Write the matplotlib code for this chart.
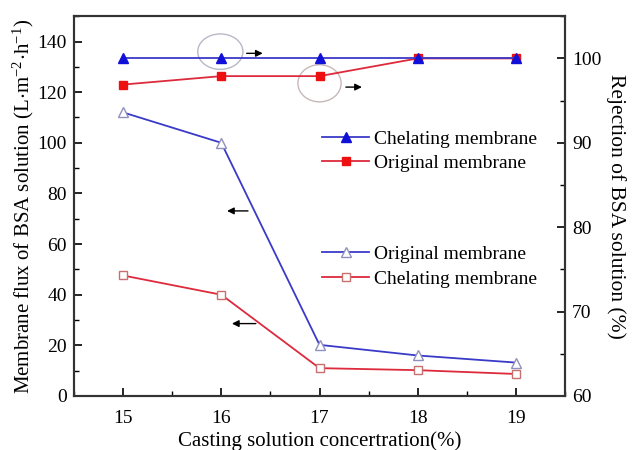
import matplotlib
matplotlib.use("Agg")
import matplotlib.pyplot as plt
from matplotlib.patches import Ellipse
from matplotlib.ticker import MultipleLocator

plt.rcParams['font.family'] = ['Liberation Serif', 'DejaVu Serif']
plt.rcParams['mathtext.fontset'] = 'stix'

# casting solution concentration (%)
conc = [15, 16, 17, 18, 19]

# flux of BSA solution, left axis
flux_original = [112, 100, 20.2, 16, 13.2]
flux_chelating = [47.6, 40, 11, 10.2, 8.7]

# rejection of BSA solution, right axis
rej_chelating = [100, 100, 100, 100, 100]
rej_original = [96.9, 97.9, 97.9, 100, 100]

blue = '#3a3ac8'
red = '#dd2a3c'

fig = plt.figure(figsize=(6.34, 4.5), dpi=100)
ax = fig.add_axes([0.1167, 0.12, 0.7745, 0.844])
ax2 = ax.twinx()

l1, = ax.plot(conc, flux_original, color=blue, lw=1.3, marker='^', ms=7,
              mfc='white', mec='#9090c0', mew=1.0, label='Original membrane')
l2, = ax.plot(conc, flux_chelating, color=red, lw=1.3, marker='s', ms=6,
              mfc='white', mec='#c87070', mew=1.0, label='Chelating membrane')

l4, = ax2.plot(conc, rej_original, color=red, lw=1.3, marker='s', ms=5.5,
               mfc='#ee1010', mec='#ee1010', label='Original membrane')
l3, = ax2.plot(conc, rej_chelating, color=blue, lw=1.3, marker='^', ms=7,
               mfc='#1010d8', mec='#1010d8', label='Chelating membrane')

ax.set_xlim(14.5, 19.5)
ax.set_ylim(0, 150)
ax2.set_ylim(60, 105)
ax.set_xticks(conc)
ax.xaxis.set_minor_locator(MultipleLocator(0.5))
ax.yaxis.set_major_locator(MultipleLocator(20))
ax.yaxis.set_minor_locator(MultipleLocator(10))
ax2.yaxis.set_major_locator(MultipleLocator(10))
ax2.yaxis.set_minor_locator(MultipleLocator(5))

for a in (ax, ax2):
    a.tick_params(which='major', direction='in', length=6, width=1.2, labelsize=14, pad=5)
    a.tick_params(which='minor', direction='in', length=3.5, width=1.0)
    for s in a.spines.values():
        s.set_linewidth(1.5)
        s.set_color('#333333')
ax.tick_params(top=False, which='both')
ax.tick_params(axis='x', pad=10)

ax.set_xlabel('Casting solution concertration(%)', fontsize=15, labelpad=3)
ax.set_ylabel(r'Membrane flux of BSA solution (L$\cdot$m$^{\mathregular{-2}}$$\cdot$h$^{\mathregular{-1}}$)',
              fontsize=15, labelpad=1)
ax2.set_ylabel('Rejection of BSA solution (%)', fontsize=15.5, rotation=270, labelpad=18)

# circles and arrows marking which axis each group belongs to
ax2.add_patch(Ellipse((15.99, 100.8), 0.46, 4.2, fill=False, ec='#b8b8c8', lw=1.0))
ax2.add_patch(Ellipse((17.0, 97.05), 0.44, 4.4, fill=False, ec='#c8b8b8', lw=1.0))
ax2.annotate('', xy=(16.45, 100.6), xytext=(16.23, 100.6),
             arrowprops=dict(arrowstyle='-|>', color='black', lw=1.0, mutation_scale=10))
ax2.annotate('', xy=(17.46, 96.6), xytext=(17.24, 96.6),
             arrowprops=dict(arrowstyle='-|>', color='black', lw=1.0, mutation_scale=10))
ax.annotate('', xy=(16.03, 73.1), xytext=(16.30, 73.1),
            arrowprops=dict(arrowstyle='-|>', color='black', lw=1.0, mutation_scale=10))
ax.annotate('', xy=(16.08, 28.6), xytext=(16.38, 28.6),
            arrowprops=dict(arrowstyle='-|>', color='black', lw=1.0, mutation_scale=10))

leg1 = ax2.legend(handles=[l3, l4], loc='center left', bbox_to_anchor=(0.506, 0.645),
                  frameon=False, fontsize=14, handlelength=2.4, handletextpad=0.25,
                  labelspacing=0.3, borderpad=0, borderaxespad=0)
ax2.add_artist(leg1)
ax2.legend(handles=[l1, l2], loc='center left', bbox_to_anchor=(0.506, 0.341),
           frameon=False, fontsize=14, handlelength=2.4, handletextpad=0.25,
           labelspacing=0.35, borderpad=0, borderaxespad=0)

fig.savefig('out.png', dpi=100)
